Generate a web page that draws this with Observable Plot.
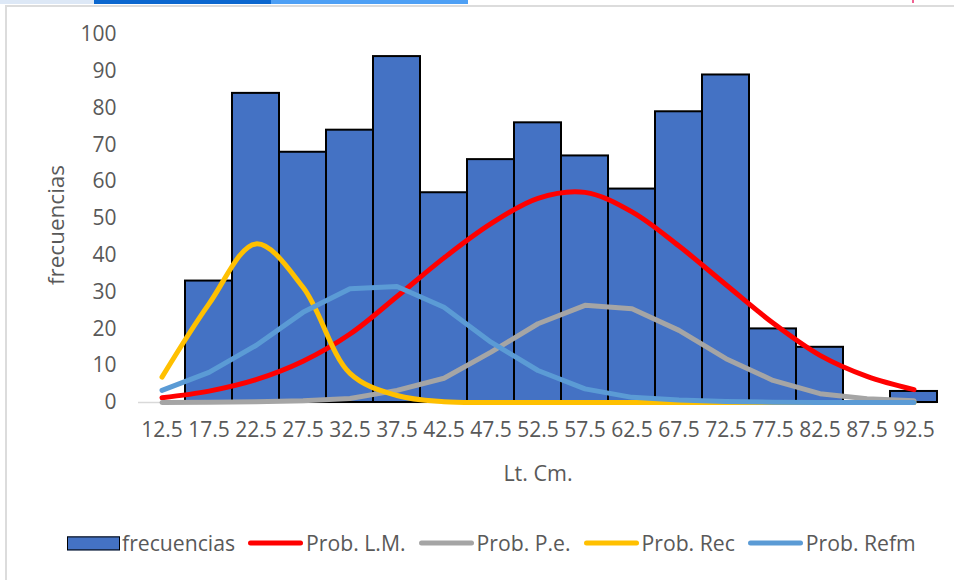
<!DOCTYPE html>
<html>
<head>
<meta charset="utf-8">
<script src="https://cdn.jsdelivr.net/npm/d3@7"></script>
<script src="https://cdn.jsdelivr.net/npm/@observablehq/plot@0.6"></script>
<style>
  body { margin: 0; width: 954px; height: 580px; overflow: hidden; position: relative; background: #fff;
         font-family: "Open Sans", sans-serif; color: #595959; }
  .abs { position: absolute; }
  #chart { position: absolute; left: 0; top: 0; }
  .title { position: absolute; font-size: 21.5px; line-height: 1; white-space: nowrap; transform: translate(-50%, -50%); }
  #ytitle { font-size: 22.5px; transform: translate(-50%, -50%) rotate(-90deg); }
  #legend { position: absolute; left: 67px; top: 543px; transform: translateY(-50%); display: flex; align-items: center;
            font-size: 21.2px; line-height: 1; white-space: nowrap; }
  .sw-rect { width: 53px; height: 14px; box-sizing: border-box; background: #4472c4; border: 1.5px solid #000; }
  .sw-line { width: 55px; height: 5px; border-radius: 3px; margin-left: 13px; }
  .lab { margin-left: 3px; }
</style>
</head>
<body>
<div class="abs" style="left:0;top:0;width:94px;height:4px;background:#dde8f6"></div>
<div class="abs" style="left:94px;top:0;width:177px;height:4px;background:#0b67cf"></div>
<div class="abs" style="left:271px;top:0;width:197px;height:4px;background:#4ea0f5"></div>
<div class="abs" style="left:912px;top:0;width:2px;height:3px;background:#f06292"></div>
<div class="abs" style="left:5px;top:5px;width:949px;height:575px;border-left:2px solid #dcdcdc;border-top:2px solid #dcdcdc"></div>
<div id="chart"></div>
<div id="ytitle" class="title" style="left:56px;top:225px">frecuencias</div>
<div id="xtitle" class="title" style="left:538px;top:473px">Lt. Cm.</div>
<div id="legend"></div>
<script>
const categories = [12.5, 17.5, 22.5, 27.5, 32.5, 37.5, 42.5, 47.5, 52.5, 57.5, 62.5, 67.5, 72.5, 77.5, 82.5, 87.5, 92.5];
const frecuencias = [0, 33, 84, 68, 74, 94, 57, 66, 76, 67, 58, 79, 89, 20, 15, 0, 3];
const probLM   = [1.3, 3.1, 6.2, 11.2, 18.6, 28.8, 39.3, 48.6, 55.5, 57.1, 51.8, 42.5, 32, 21.6, 12.8, 7.1, 3.5];
const probPe   = [0, 0.1, 0.2, 0.5, 1.1, 3.3, 6.6, 13.7, 21.4, 26.4, 25.5, 19.6, 11.9, 6, 2.4, 1, 0.5];
const probRec  = [6.9, 26.8, 43.1, 31.3, 7.9, 1.9, 0.2, 0, 0, 0, 0, 0, 0, 0, 0, 0, 0];
const probRefm = [3.3, 8.2, 15.5, 24.5, 30.9, 31.5, 25.9, 16.4, 8.7, 3.7, 1.4, 0.7, 0.3, 0.1, 0, 0, 0];
const yTicks = [0, 10, 20, 30, 40, 50, 60, 70, 80, 90, 100];

const seriesNames  = ["Prob. L.M.", "Prob. P.e.", "Prob. Rec", "Prob. Refm"];
const seriesValues = [probLM, probPe, probRec, probRefm];
const seriesColors = ["#ff0000", "#a5a5a5", "#ffc000", "#5b9bd5"];
const seriesCurves = ["catmull-rom", "linear", "catmull-rom", "linear"];
const barColor = "#4472c4";
const halfWidth = (categories[1] - categories[0]) / 2;

const bars = categories.map((c, i) => ({c, v: frecuencias[i]})).filter(d => d.v > 0);

const lineMarks = seriesNames.map((name, k) =>
  Plot.line(categories.map((c, i) => ({c, v: seriesValues[k][i]})), {
    x: "c", y: "v", stroke: seriesColors[k], strokeWidth: 5,
    curve: seriesCurves[k], strokeLinecap: "round", strokeLinejoin: "round"
  })
);

const chart = Plot.plot({
  width: 954,
  height: 500,
  marginLeft: 138,
  marginRight: 17,
  marginTop: 34,
  marginBottom: 98,
  style: {fontFamily: "Open Sans", fontSize: "21px", color: "#595959", background: "transparent"},
  x: {type: "linear", domain: [categories[0] - halfWidth, categories[categories.length - 1] + halfWidth],
      ticks: categories, tickFormat: d => d.toFixed(1), tickSize: 0, tickPadding: 20, label: null},
  y: {domain: [0, 100], ticks: yTicks, tickSize: 0, tickPadding: 22, label: null},
  marks: [
    Plot.ruleY([0], {stroke: "#d9d9d9", strokeWidth: 1.5}),
    Plot.rect(bars, {x1: d => d.c - halfWidth, x2: d => d.c + halfWidth, y1: d => 0, y2: "v",
                     fill: barColor, stroke: "#000", strokeWidth: 2}),
    ...lineMarks
  ]
});
document.getElementById("chart").appendChild(chart);

const legend = document.getElementById("legend");
legend.innerHTML =
  `<div class="sw-rect"></div><span class="lab" style="margin-left:2px">frecuencias</span>` +
  seriesNames.map((n, k) => `<div class="sw-line" style="background:${seriesColors[k]}"></div><span class="lab">${n}</span>`).join("");
</script>
</body>
</html>
